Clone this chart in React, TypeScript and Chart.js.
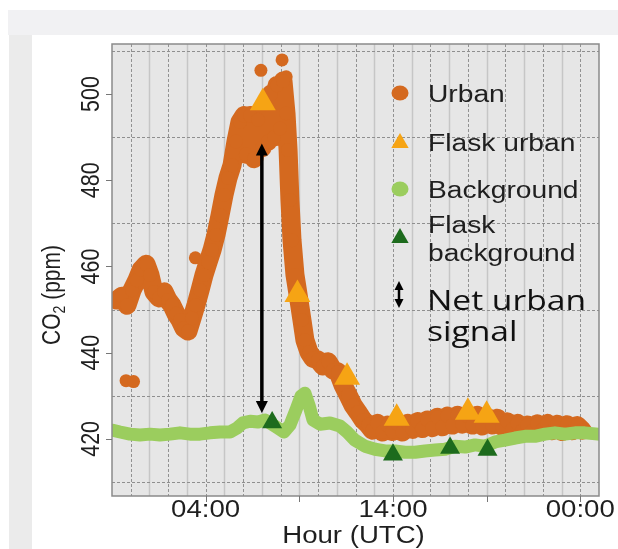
import React, { useEffect, useRef } from "react";
import { Chart, registerables } from "chart.js";

Chart.register(...registerables);

// ---------- data (hours UTC, CO2 ppm) ----------
const urbanHours = [
  -0.73, -0.47, -0.2, 0.07, 0.33, 0.55, 0.82, 1.03, 1.24, 1.51, 1.78, 1.99, 2.2, 2.42, 2.63, 2.84, 3.06, 3.27,
  3.48, 3.7, 3.91, 4.13, 4.34, 4.55, 4.77, 4.98, 5.19, 5.41, 5.62, 5.83, 6.05, 6.15, 6.37, 6.58, 6.8, 7.01,
  7.17, 7.33, 7.49, 7.65, 7.81, 7.97, 8.13, 8.29, 8.4, 8.5, 8.61, 8.77, 8.98, 9.14, 9.3, 9.52, 9.73, 10.0,
  10.27, 10.53, 10.8, 11.07, 11.33, 11.6, 11.87, 12.13, 12.4, 12.67, 12.9, 13.17, 13.44, 13.7, 13.97, 14.24,
  14.5, 14.77, 15.04, 15.3, 15.57, 15.84, 16.1, 16.37, 16.64, 16.9, 17.17, 17.44, 17.7, 17.97, 18.24, 18.5,
  18.77, 19.04, 19.3, 19.57, 19.84, 20.1, 20.37, 20.64, 20.9, 21.17, 21.44, 21.7, 21.97, 22.24, 22.5, 22.77,
  23.04, 23.3, 23.57, 23.84, 24.1,
];
const urbanValues = [
  452.2, 453.1, 451.0, 454.5, 456.8, 459.2, 460.5, 458.0, 454.1, 452.7, 454.1, 452.2, 451.0, 449.0, 447.6, 445.7, 445.0, 448.0,
  451.0, 454.5, 458.0, 461.0, 463.8, 467.3, 471.9, 476.6, 480.5, 483.5, 489.0, 493.5, 495.0, 486.0, 495.0, 485.0, 494.0, 487.5,
  497.5, 489.0, 500.0, 490.0, 502.0, 492.0, 503.0, 495.5, 487.0, 475.4, 466.1, 458.0, 452.2, 447.6, 442.9, 440.1, 438.7, 438.3,
  436.9, 437.9, 436.0, 435.5, 432.5, 430.2, 427.8, 426.2, 424.4, 423.3, 422.0, 423.6, 421.6, 423.2, 421.7, 423.5,
  421.6, 423.6, 422.2, 424.0, 422.4, 424.4, 422.6, 425.0, 422.8, 425.3, 423.2, 425.5, 423.4, 425.3, 423.2, 425.5,
  423.0, 425.0, 423.2, 424.8, 422.8, 424.0, 422.2, 423.6, 421.9, 423.2, 421.9, 423.5, 422.1, 423.6, 421.9, 423.4,
  421.7, 423.3, 421.9, 423.1, 422.0,
];
const urbanDotHours = [-0.25, 0.15, 3.45, 5.3, 6.95, 8.08, 8.3];
const urbanDotValues = [433.5, 433.3, 462.0, 482.0, 505.5, 507.9, 504.0];

const backgroundHours = [
  -0.95, -0.57, -0.04, 0.49, 1.03, 1.56, 2.1, 2.63, 3.16, 3.7, 4.23, 4.77, 5.3, 5.67, 5.99, 6.37, 6.8, 7.17,
  7.54, 7.86, 8.18, 8.5, 8.82, 9.09, 9.3, 9.52, 9.73, 10.11, 10.64, 11.17, 11.55, 11.97, 12.51, 13.04, 13.58,
  14.11, 14.64, 15.18, 15.71, 16.25, 16.78, 17.31, 17.85, 18.38, 18.91, 19.45, 19.98, 20.52, 21.05, 21.58,
  22.12, 22.65, 23.19, 23.72, 24.25, 24.95,
];
const backgroundValues = [
  422.0, 421.6, 421.1, 420.9, 421.1, 420.9, 421.1, 421.4, 421.1, 421.1, 421.4, 421.6, 421.6, 422.5, 423.7, 424.1, 423.9, 424.4,
  423.4, 422.5, 421.6, 423.2, 426.7, 429.9, 430.6, 427.8, 424.4, 423.4, 423.7, 423.0, 421.6, 419.7, 418.3, 417.6, 417.2,
  417.2, 416.9, 416.9, 417.2, 417.4, 417.6, 418.3, 418.1, 418.6, 418.3, 419.3, 419.7, 420.2, 420.6, 420.6,
  421.1, 421.4, 421.1, 421.4, 421.4, 421.1,
];

const flaskUrbanHours = [7.05, 8.9, 11.55, 14.2, 18.0, 19.0];
const flaskUrbanValues = [498.0, 453.5, 434.3, 424.8, 426.2, 425.5];

const flaskBackgroundHours = [7.55, 14.0, 17.05, 19.05];
const flaskBackgroundValues = [423.8, 416.3, 417.9, 417.4];

// net urban signal arrow (hour, from ppm, to ppm)
const arrowHour = 7.0;
const arrowTopValue = 488.5;
const arrowBottomValue = 426.0;

// axes
const xMin = -1;
const xMax = 25;
const yMin = 406.75;
const yMax = 511.6;
const xTickHours = [4, 14, 24];
const xTickLabels = ["04:00", "14:00", "00:00"];
const xMinorTickHours = [9, 19];
const yTickValues = [420, 440, 460, 480, 500];
const yTickLabels = ["420", "440", "460", "480", "500"];
const yGridValues = [410, 430, 450, 470, 490, 510];

const xTitle = "Hour (UTC)";
const legendLabels = ["Urban", "Flask urban", "Background", "Flask", "background", "Net urban", "signal"];

// ---------- styles ----------
const URBAN = "#d4691f";
const FLASK_URBAN = "#f6a414";
const BACKGROUND = "#9bcd5e";
const FLASK_BG = "#1d6b1d";
const FONT = '"Liberation Sans", Arial, sans-serif';
const TEXT = "#1f1f1f";
const SX = 1.2;

function sText(ctx: CanvasRenderingContext2D, text: string, x: number, y: number, size: number, align: CanvasTextAlign, font = FONT, color = TEXT) {
  ctx.save();
  ctx.translate(x, y);
  ctx.scale(SX, 1);
  ctx.font = `${size}px ${font}`;
  ctx.textAlign = align;
  ctx.textBaseline = "alphabetic";
  ctx.fillStyle = color;
  ctx.fillText(text, 0, 0);
  ctx.restore();
}

function tri(ctx: CanvasRenderingContext2D, x: number, y: number, r: number, color: string) {
  ctx.beginPath();
  for (let i = 0; i < 3; i++) {
    const a = (i * 2 * Math.PI) / 3;
    const px = x + Math.sin(a) * r;
    const py = y - Math.cos(a) * r;
    if (i === 0) ctx.moveTo(px, py);
    else ctx.lineTo(px, py);
  }
  ctx.closePath();
  ctx.fillStyle = color;
  ctx.fill();
}

function arrowHead(ctx: CanvasRenderingContext2D, x: number, tipY: number, dir: number, w: number, h: number) {
  ctx.beginPath();
  ctx.moveTo(x, tipY);
  ctx.lineTo(x - w / 2, tipY + dir * h);
  ctx.lineTo(x + w / 2, tipY + dir * h);
  ctx.closePath();
  ctx.fill();
}

const decorPlugin = {
  id: "decor",
  beforeDatasetsDraw(chart: any) {
    const { ctx, chartArea: a } = chart;
    const xs = chart.scales.x;
    const ys = chart.scales.y;
    ctx.save();
    ctx.fillStyle = "#e6e6e6";
    ctx.fillRect(a.left, a.top, a.right - a.left, a.bottom - a.top);
    for (let h = Math.ceil(xMin + 1); h < xMax; h++) {
      const px = Math.round(xs.getPixelForValue(h)) + 0.5;
      ctx.beginPath();
      if (h % 2 === 0) {
        ctx.strokeStyle = "#929292";
        ctx.lineWidth = 1;
        ctx.setLineDash([3, 2]);
      } else {
        ctx.strokeStyle = "#c6c6c6";
        ctx.lineWidth = 1.5;
        ctx.setLineDash([]);
      }
      ctx.moveTo(px, a.top);
      ctx.lineTo(px, a.bottom);
      ctx.stroke();
    }
    ctx.setLineDash([3, 2]);
    ctx.strokeStyle = "#8f8f8f";
    ctx.lineWidth = 1;
    for (const v of yGridValues) {
      const py = Math.round(ys.getPixelForValue(v)) + 0.5;
      ctx.beginPath();
      ctx.moveTo(a.left, py);
      ctx.lineTo(a.right, py);
      ctx.stroke();
    }
    ctx.restore();
  },
  afterDatasetsDraw(chart: any) {
    const { ctx, chartArea: a } = chart;
    const xs = chart.scales.x;
    const ys = chart.scales.y;
    ctx.save();
    const ax = xs.getPixelForValue(arrowHour);
    const ay1 = ys.getPixelForValue(arrowTopValue);
    const ay2 = ys.getPixelForValue(arrowBottomValue);
    ctx.strokeStyle = "#000";
    ctx.fillStyle = "#000";
    ctx.lineWidth = 3.5;
    ctx.beginPath();
    ctx.moveTo(ax, ay1 + 8);
    ctx.lineTo(ax, ay2 - 8);
    ctx.stroke();
    arrowHead(ctx, ax, ay1, 1, 12, 12);
    arrowHead(ctx, ax, ay2, -1, 12, 12);

    ctx.strokeStyle = "#8a8a8a";
    ctx.lineWidth = 1.5;
    ctx.strokeRect(a.left, a.top, a.right - a.left, a.bottom - a.top);

    ctx.strokeStyle = "#777";
    ctx.lineWidth = 1;
    for (const v of yTickValues) {
      const py = Math.round(ys.getPixelForValue(v)) + 0.5;
      ctx.beginPath();
      ctx.moveTo(a.left - 6, py);
      ctx.lineTo(a.left, py);
      ctx.stroke();
    }
    for (const h of [...xTickHours, ...xMinorTickHours]) {
      const px = Math.round(xs.getPixelForValue(h)) + 0.5;
      ctx.beginPath();
      ctx.moveTo(px, a.bottom);
      ctx.lineTo(px, a.bottom + 6);
      ctx.stroke();
    }

    xTickHours.forEach((h, i) => sText(ctx, xTickLabels[i], xs.getPixelForValue(h), 517, 23, "center"));
    sText(ctx, xTitle, (a.left + a.right) / 2 - 2, 543, 23, "center");

    yTickValues.forEach((v, i) => {
      ctx.save();
      ctx.translate(99, ys.getPixelForValue(v));
      ctx.scale(SX, 1);
      ctx.rotate(-Math.PI / 2);
      ctx.font = `21.5px ${FONT}`;
      ctx.textAlign = "center";
      ctx.fillStyle = TEXT;
      ctx.fillText(yTickLabels[i], 0, 0);
      ctx.restore();
    });

    ctx.save();
    ctx.translate(60, 295);
    ctx.scale(SX, 1);
    ctx.rotate(-Math.PI / 2);
    ctx.fillStyle = TEXT;
    ctx.textAlign = "left";
    const big = `21px ${FONT}`;
    const small = `14px ${FONT}`;
    ctx.font = big;
    const w1 = ctx.measureText("CO").width;
    const w3 = ctx.measureText(" (ppm)").width;
    ctx.font = small;
    const w2 = ctx.measureText("2").width;
    let sx = -(w1 + w2 + w3) / 2;
    ctx.font = big;
    ctx.fillText("CO", sx, 0);
    sx += w1;
    ctx.font = small;
    ctx.fillText("2", sx, 4);
    sx += w2;
    ctx.font = big;
    ctx.fillText(" (ppm)", sx, 0);
    ctx.restore();

    const lx = 400;
    const tx = 428;
    ctx.fillStyle = URBAN;
    ctx.beginPath();
    ctx.ellipse(lx, 93, 8.5, 7.5, 0, 0, Math.PI * 2);
    ctx.fill();
    tri(ctx, lx, 143, 10, FLASK_URBAN);
    ctx.fillStyle = BACKGROUND;
    ctx.beginPath();
    ctx.ellipse(lx, 189, 8.5, 7.5, 0, 0, Math.PI * 2);
    ctx.fill();
    tri(ctx, lx, 238, 10, FLASK_BG);
    ctx.fillStyle = "#000";
    ctx.strokeStyle = "#000";
    ctx.lineWidth = 2.5;
    ctx.beginPath();
    ctx.moveTo(lx - 1, 287);
    ctx.lineTo(lx - 1, 302);
    ctx.stroke();
    arrowHead(ctx, lx - 1, 281, 1, 9, 9);
    arrowHead(ctx, lx - 1, 308, -1, 9, 9);

    sText(ctx, legendLabels[0], tx, 102, 23.5, "left");
    sText(ctx, legendLabels[1], tx, 151, 23.5, "left");
    sText(ctx, legendLabels[2], tx, 198, 23.5, "left");
    sText(ctx, legendLabels[3], tx, 233, 23.5, "left");
    sText(ctx, legendLabels[4], tx, 261, 23.5, "left");
    sText(ctx, legendLabels[5], tx - 1, 310, 28, "left", '"Open Sans", Lato, sans-serif', "#111");
    sText(ctx, legendLabels[6], tx - 1, 341, 28, "left", '"Open Sans", Lato, sans-serif', "#111");
    ctx.restore();
  },
};

const xy = (xs: number[], ys: number[]) => xs.map((x, i) => ({ x, y: ys[i] }));

export default function App() {
  const ref = useRef<HTMLCanvasElement | null>(null);

  useEffect(() => {
    if (!ref.current) return;
    const chart = new Chart(ref.current, {
      type: "scatter",
      data: {
        datasets: [
          {
            label: "Flask background",
            data: xy(flaskBackgroundHours, flaskBackgroundValues),
            pointStyle: "triangle",
            pointRadius: 11.5,
            backgroundColor: FLASK_BG,
            borderColor: FLASK_BG,
            pointBorderWidth: 0,
            order: 0,
          },
          {
            label: "Flask urban",
            data: xy(flaskUrbanHours, flaskUrbanValues),
            pointStyle: "triangle",
            pointRadius: 15,
            backgroundColor: FLASK_URBAN,
            borderColor: FLASK_URBAN,
            pointBorderWidth: 0,
            order: 1,
          },
          {
            label: "Background",
            data: xy(backgroundHours, backgroundValues),
            showLine: true,
            borderColor: BACKGROUND,
            backgroundColor: BACKGROUND,
            borderWidth: 13,
            borderJoinStyle: "round",
            borderCapStyle: "round",
            pointRadius: 0,
            pointBorderWidth: 0,
            order: 2,
          },
          {
            label: "Urban",
            data: xy(urbanHours, urbanValues),
            showLine: true,
            borderColor: URBAN,
            backgroundColor: URBAN,
            borderWidth: 19,
            borderJoinStyle: "round",
            borderCapStyle: "round",
            pointRadius: 7,
            pointBorderWidth: 0,
            order: 3,
          },
          {
            label: "Urban dots",
            data: xy(urbanDotHours, urbanDotValues),
            backgroundColor: URBAN,
            borderColor: URBAN,
            pointRadius: 6.5,
            pointBorderWidth: 0,
            order: 4,
          },
        ],
      } as any,
      options: {
        responsive: false,
        animation: false,
        devicePixelRatio: 1,
        events: [],
        layout: { padding: { left: 112, top: 44, right: 19, bottom: 53 } },
        scales: {
          x: { type: "linear", min: xMin, max: xMax, display: false },
          y: { type: "linear", min: yMin, max: yMax, display: false },
        },
        plugins: { legend: { display: false }, tooltip: { enabled: false } },
      } as any,
      plugins: [decorPlugin],
    });
    return () => chart.destroy();
  }, []);

  return (
    <div style={{ position: "absolute", left: 0, top: 0, width: 618, height: 549, background: "#fff", overflow: "hidden" }}>
      <div style={{ position: "absolute", left: 8, top: 10, width: 610, height: 25, background: "#f1f1f3" }} />
      <div style={{ position: "absolute", left: 9, top: 35, width: 23, height: 514, background: "#ebebeb" }} />
      <canvas ref={ref} width={618} height={549} style={{ position: "absolute", left: 0, top: 0, width: 618, height: 549 }} />
    </div>
  );
}
